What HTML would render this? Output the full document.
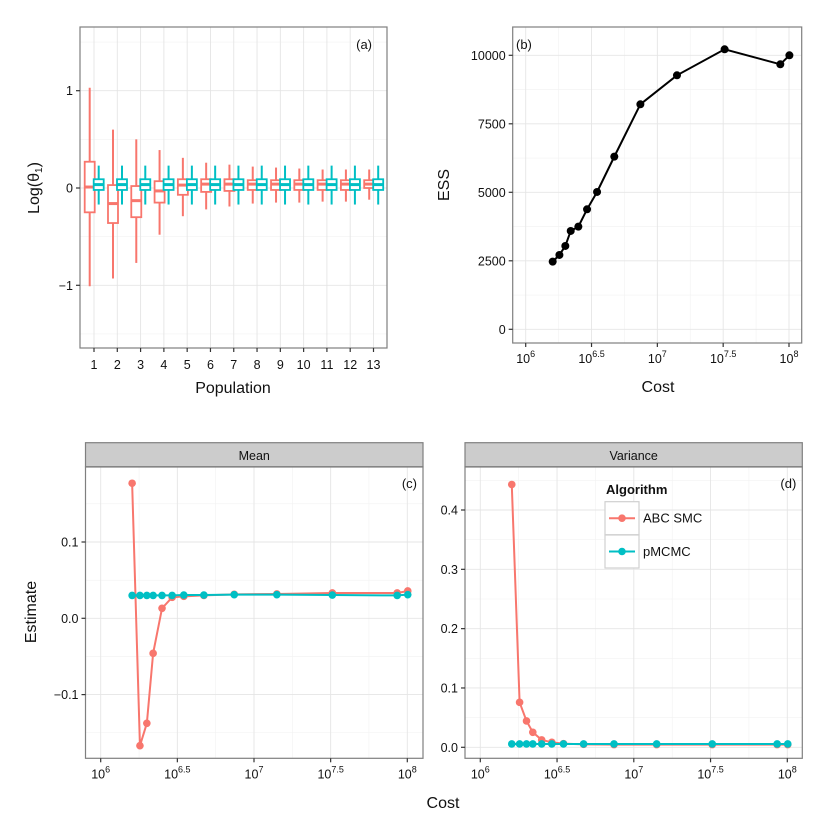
<!DOCTYPE html>
<html><head><meta charset="utf-8"><style>
body{margin:0;background:#fff}
svg{display:block;font-family:"Liberation Sans",sans-serif}
</style></head><body>
<svg id="s" width="830" height="830" viewBox="0 0 830 830" xmlns="http://www.w3.org/2000/svg"></svg>
<script>
// ---- Panel (a) data ----
const populations=[1,2,3,4,5,6,7,8,9,10,11,12,13];
const abcLow=[-1.01,-0.93,-0.77,-0.48,-0.29,-0.22,-0.19,-0.16,-0.15,-0.15,-0.14,-0.14,-0.12];
const abcQ1=[-0.25,-0.36,-0.30,-0.15,-0.07,-0.04,-0.03,-0.02,-0.02,-0.02,-0.02,-0.02,0.00];
const abcMed=[0.01,-0.16,-0.13,-0.03,0.03,0.04,0.04,0.04,0.04,0.04,0.04,0.04,0.04];
const abcQ3=[0.27,0.03,0.02,0.07,0.09,0.09,0.09,0.08,0.08,0.08,0.08,0.08,0.08];
const abcHigh=[1.03,0.60,0.50,0.39,0.31,0.26,0.24,0.22,0.21,0.20,0.19,0.19,0.19];
const mcLow=[-0.17,-0.17,-0.17,-0.17,-0.17,-0.17,-0.17,-0.17,-0.17,-0.17,-0.17,-0.17,-0.17];
const mcQ1=[-0.02,-0.02,-0.02,-0.02,-0.02,-0.02,-0.02,-0.02,-0.02,-0.02,-0.02,-0.02,-0.02];
const mcMed=[0.035,0.035,0.035,0.035,0.035,0.035,0.035,0.035,0.035,0.035,0.035,0.035,0.035];
const mcQ3=[0.09,0.09,0.09,0.09,0.09,0.09,0.09,0.09,0.09,0.09,0.09,0.09,0.09];
const mcHigh=[0.23,0.23,0.23,0.23,0.23,0.23,0.23,0.23,0.23,0.23,0.23,0.23,0.23];
const aYTicks=[-1,0,1];
// ---- Panel (b) data ----
const logCost=[6.205,6.256,6.301,6.342,6.400,6.466,6.542,6.673,6.871,7.149,7.511,7.934,8.003];
const essValues=[2470,2713,3041,3589,3747,4380,5012,6302,8212,9270,10219,9672,10000];
const bYTicks=[0,2500,5000,7500,10000];
const costTicks=[6,6.5,7,7.5,8];
const costTickExp=["6","6.5","7","7.5","8"];
// ---- Panel (c),(d) data ----
const meanABC=[0.177,-0.167,-0.1376,-0.0459,0.0131,0.0275,0.0288,0.030,0.0314,0.0319,0.0332,0.0332,0.0358];
const meanMC=[0.030,0.030,0.030,0.030,0.030,0.030,0.0305,0.0305,0.031,0.031,0.0305,0.030,0.031];
const varABC=[0.443,0.0758,0.0444,0.0253,0.0124,0.0084,0.0062,0.005,0.0045,0.0045,0.0045,0.0045,0.0045];
const varMC=[0.0056,0.0056,0.0056,0.0056,0.0056,0.0056,0.0056,0.0056,0.0056,0.0056,0.0056,0.0056,0.0056];
const cYTicks=[-0.1,0.0,0.1];
const cYLabels=["\u22120.1","0.0","0.1"];
const dYTicks=[0.0,0.1,0.2,0.3,0.4];
const dYLabels=["0.0","0.1","0.2","0.3","0.4"];

const RED="#F8766D",CYAN="#00BFC4",NS="http://www.w3.org/2000/svg";
const svg=document.getElementById('s');
function el(tag,attrs,parent,txt){const e=document.createElementNS(NS,tag);for(const k in attrs)e.setAttribute(k,attrs[k]);if(txt!==undefined)e.textContent=txt;(parent||svg).appendChild(e);return e;}
function lin(d0,d1,r0,r1){return v=>r0+(v-d0)/(d1-d0)*(r1-r0);}
function frame(g,x0,y0,x1,y1){const r=el('rect',{x:x0,y:y0,width:x1-x0,height:y1-y0,fill:'none',stroke:'#7f7f7f','stroke-width':1.2},g);}
function bg(g,x0,y0,x1,y1){el('rect',{x:x0,y:y0,width:x1-x0,height:y1-y0,fill:'#fff'},g);}
function hgrid(g,x0,x1,y,minor){el('line',{x1:x0,x2:x1,y1:y,y2:y,stroke:minor?'#f2f2f2':'#e5e5e5','stroke-width':minor?0.6:0.9},g);}
function vgrid(g,y0,y1,x,minor){el('line',{x1:x,x2:x,y1:y0,y2:y1,stroke:minor?'#f2f2f2':'#e5e5e5','stroke-width':minor?0.6:0.9},g);}
function ytick(g,x0,y,label){el('line',{x1:x0-4,x2:x0,y1:y,y2:y,stroke:'#333','stroke-width':1.2},g);const t=el('text',{x:x0-7,y:y+4.5,'text-anchor':'end','font-size':12.5,fill:'#111'},g,label);}
function xtickLog(g,y0,x,exp){el('line',{x1:x,x2:x,y1:y0,y2:y0+4,stroke:'#333','stroke-width':1.2},g);const t=el('text',{x:x,y:y0+20,'text-anchor':'middle','font-size':12.5,fill:'#111'},g);const a=el('tspan',{},t,'10');const b=el('tspan',{dy:-6,'font-size':9},t,exp);}

// ---------- Panel a ----------
(function(){
const g=el('g',{});
const X0=80,X1=387,Y0=27,Y1=348;
const y=lin(0,1,188,90.7),x=lin(1,13,94,373.5);
bg(g,X0,Y0,X1,Y1);
[-1.5,-0.5,0.5,1.5].forEach(v=>hgrid(g,X0,X1,y(v),true));
aYTicks.forEach(v=>hgrid(g,X0,X1,y(v)));
populations.forEach(p=>vgrid(g,Y0,Y1,x(p)));
function box(i,off,col,lo,q1,md,q3,hi,name){
 const cx=x(populations[i])+off,w=10;
 const bx=el('g',{},g);
 el('line',{x1:cx,x2:cx,y1:y(hi[i]),y2:y(q3[i]),stroke:col,'stroke-width':2},bx);
 el('line',{x1:cx,x2:cx,y1:y(q1[i]),y2:y(lo[i]),stroke:col,'stroke-width':2},bx);
 el('rect',{x:cx-w/2,y:y(q3[i]),width:w,height:Math.max(0.5,y(q1[i])-y(q3[i])),fill:'#fff',stroke:col,'stroke-width':1.8},bx);
 el('line',{x1:cx-w/2,x2:cx+w/2,y1:y(md[i]),y2:y(md[i]),stroke:col,'stroke-width':3},bx);
}
populations.forEach((p,i)=>{box(i,-4.3,RED,abcLow,abcQ1,abcMed,abcQ3,abcHigh,'abc-box-pop'+p);box(i,4.7,CYAN,mcLow,mcQ1,mcMed,mcQ3,mcHigh,'pmcmc-box-pop'+p);});
frame(g,X0,Y0,X1,Y1);
aYTicks.forEach(v=>ytick(g,X0,y(v),v<0?'\u2212'+Math.abs(v):String(v)));
populations.forEach(p=>{el('line',{x1:x(p),x2:x(p),y1:Y1,y2:Y1+4,stroke:'#333','stroke-width':1.2},g);const t=el('text',{x:x(p),y:Y1+21,'text-anchor':'middle','font-size':12.5,fill:'#111'},g,String(p));});
let t=el('text',{x:372,y:49,'text-anchor':'end','font-size':13,fill:'#111'},g,'(a)');
t=el('text',{x:233,y:393,'text-anchor':'middle','font-size':16,fill:'#111'},g,'Population');
t=el('text',{x:0,y:0,'text-anchor':'middle','font-size':16,fill:'#111',transform:'translate(39,188) rotate(-90)'},g);
el('tspan',{},t,'Log(θ');el('tspan',{'font-size':10,dy:3},t,'1');el('tspan',{dy:-3},t,')');
})();

// ---------- Panel b ----------
(function(){
const g=el('g',{});
const X0=512.7,X1=801.7,Y0=27,Y1=343;
const x=lin(6,8,525.7,789),y=lin(0,10000,329.3,55.3);
bg(g,X0,Y0,X1,Y1);
[1250,3750,6250,8750].forEach(v=>hgrid(g,X0,X1,y(v),true));
[5.75,6.25,6.75,7.25,7.75].forEach(v=>{if(x(v)>X0)vgrid(g,Y0,Y1,x(v),true);});
bYTicks.forEach(v=>hgrid(g,X0,X1,y(v)));
costTicks.forEach(v=>vgrid(g,Y0,Y1,x(v)));
const pts=logCost.map((c,i)=>x(c)+','+y(essValues[i])).join(' ');
const pl=el('polyline',{points:pts,fill:'none',stroke:'#000','stroke-width':2},g);
logCost.forEach((c,i)=>{const p=el('circle',{cx:x(c),cy:y(essValues[i]),r:4,fill:'#000'},g);});
frame(g,X0,Y0,X1,Y1);
bYTicks.forEach(v=>ytick(g,X0,y(v),String(v)));
costTicks.forEach((v,i)=>xtickLog(g,Y1,x(v),costTickExp[i]));
let t=el('text',{x:516,y:49,'font-size':13,fill:'#111'},g,'(b)');
t=el('text',{x:658,y:392,'text-anchor':'middle','font-size':16,fill:'#111'},g,'Cost');
t=el('text',{x:0,y:0,'text-anchor':'middle','font-size':16,fill:'#111',transform:'translate(449,185) rotate(-90)'},g,'ESS');
})();

// ---------- Panels c, d ----------
function facet(name,X0,X1,strip,x6,x8,yA,vA,yB,vB,ticks,labels,abc,mc,minorY,lab){
const g=el('g',{});
const Y0=467,Y1=758.3;
const x=lin(6,8,x6,x8),y=lin(vA,vB,yA,yB);
const sr=el('rect',{x:X0,y:442.7,width:X1-X0,height:24,fill:'#cccccc',stroke:'#7f7f7f','stroke-width':1.2},g);
let t=el('text',{x:(X0+X1)/2,y:460,'text-anchor':'middle','font-size':12.5,fill:'#111'},g,strip);
bg(g,X0,Y0,X1,Y1);
minorY.forEach(v=>hgrid(g,X0,X1,y(v),true));
[5.75,6.25,6.75,7.25,7.75].forEach(v=>{if(x(v)>X0)vgrid(g,Y0,Y1,x(v),true);});
ticks.forEach(v=>hgrid(g,X0,X1,y(v)));
costTicks.forEach(v=>vgrid(g,Y0,Y1,x(v)));
[[abc,RED,'abc-smc'],[mc,CYAN,'pmcmc']].forEach(([arr,col,nm])=>{
 const pl=el('polyline',{points:logCost.map((c,i)=>x(c)+','+y(arr[i])).join(' '),fill:'none',stroke:col,'stroke-width':2},g);
 
 logCost.forEach((c,i)=>{const p=el('circle',{cx:x(c),cy:y(arr[i]),r:3.8,fill:col},g);});
});
frame(g,X0,Y0,X1,Y1);
ticks.forEach((v,i)=>ytick(g,X0,y(v),labels[i]));
costTicks.forEach((v,i)=>xtickLog(g,Y1,x(v),costTickExp[i]));
t=el('text',{x:X1-6,y:488,'text-anchor':'end','font-size':13,fill:'#111'},g,lab);
return g;}
facet('panel-c-mean',85.5,423,'Mean',100.7,407.3,618.3,0,542,0.1,cYTicks,cYLabels,meanABC,meanMC,[-0.15,-0.05,0.05,0.15],'(c)');
const gd=facet('panel-d-variance',465,802.3,'Variance',480.3,787.3,747.3,0,510,0.4,dYTicks,dYLabels,varABC,varMC,[0.05,0.15,0.25,0.35,0.45],'(d)');
// legend
(function(){
const g=el('g',{},gd);
let t=el('text',{x:606,y:494,'font-size':13,'font-weight':'bold',fill:'#111'},g,'Algorithm');
[['ABC SMC',RED,501.7],['pMCMC',CYAN,535]].forEach(([lbl,col,yy])=>{
 const e=el('g',{},g);
 el('rect',{x:605,y:yy,width:34,height:33,fill:'#fff',stroke:'#d0d0d0','stroke-width':1.2},e);
 el('line',{x1:609,x2:635,y1:yy+16.5,y2:yy+16.5,stroke:col,'stroke-width':2},e);
 el('circle',{cx:622,cy:yy+16.5,r:3.8,fill:col},e);
 el('text',{x:643,y:yy+21,'font-size':13,fill:'#111'},e,lbl);
});
})();
let t=el('text',{x:443,y:808,'text-anchor':'middle','font-size':16,fill:'#111'},svg,'Cost');
t=el('text',{x:0,y:0,'text-anchor':'middle','font-size':16,fill:'#111',transform:'translate(36,612) rotate(-90)'},svg,'Estimate');
</script>
</body></html>
